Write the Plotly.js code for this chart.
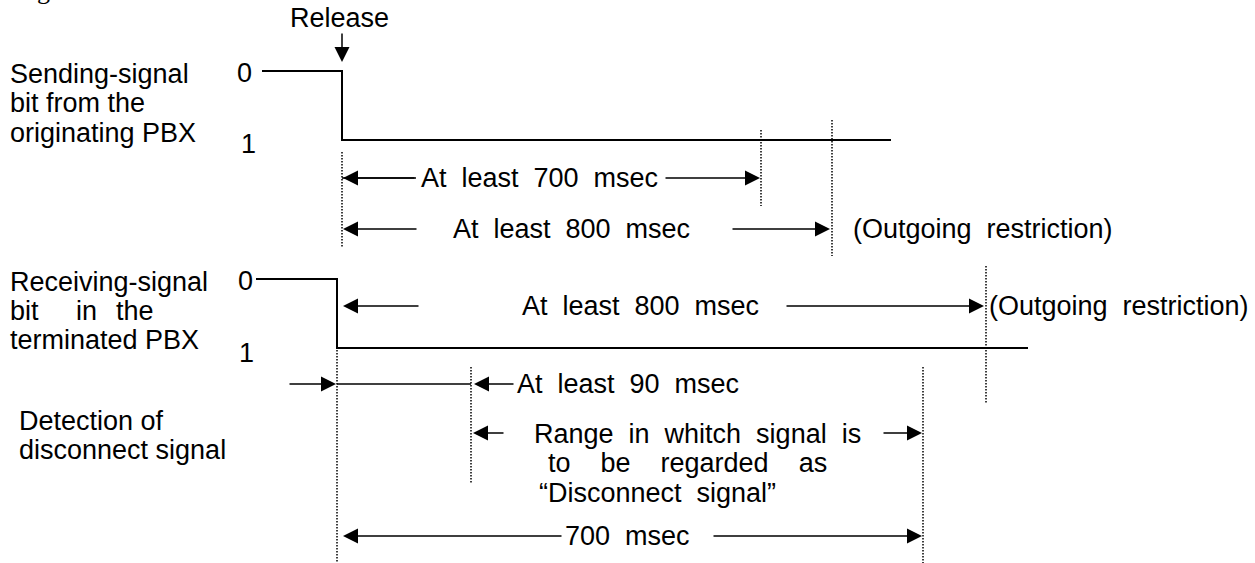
<!DOCTYPE html>
<html>
<head>
<meta charset="utf-8">
<script src="https://cdn.plot.ly/plotly-3.0.1.min.js"></script>
<style>
html,body{margin:0;padding:0;background:#fff;}
#chart{width:1255px;height:563px;}
</style>
</head>
<body>
<div id="chart"></div>
<script>
// Diagram coordinates (horizontal = time position, vertical = row position)
const sendX = [262, 342, 342, 891];
const sendY = [71, 71, 140, 140];
const recvX = [256, 337, 337, 1028];
const recvY = [279, 279, 348, 348];

// dotted time markers: x, top, bottom
const markX   = [342, 761, 832, 337, 986, 471, 923];
const markTop = [152, 130, 120, 350, 266, 367, 367];
const markBot = [248, 206, 256, 563, 404, 484, 563];

// plain connector lines: x0, x1, y
const lineX0 = [342, 337];
const lineX1 = [416, 471];
const lineY  = [178, 384];

// arrows: tail -> head
const arrTailX = [342, 416, 664, 418, 731, 420, 785, 288, 515, 505, 882, 563, 712];
const arrTailY = [32, 178, 178, 229, 229, 306, 306, 384, 384, 433, 433, 536, 536];
const arrHeadX = [342, 343, 760, 343, 830, 343, 984, 336, 474, 473, 922, 343, 922];
const arrHeadY = [62, 178, 178, 229, 229, 306, 306, 384, 384, 433, 433, 536, 536];

const S2 = '\u00a0\u00a0';
const S4 = '\u00a0\u00a0\u00a0\u00a0';

// text labels
const labText = [
  'Release',
  'Sending-signal', 'bit from the', 'originating PBX',
  '0', '1',
  'At' + S2 + 'least' + S2 + '700' + S2 + 'msec',
  'At' + S2 + 'least' + S2 + '800' + S2 + 'msec',
  '(Outgoing' + S2 + 'restriction)',
  'Receiving-signal', 'bit', 'in', 'the', 'terminated PBX',
  '0', '1',
  'At' + S2 + 'least' + S2 + '800' + S2 + 'msec',
  '(Outgoing' + S2 + 'restriction)',
  'At' + S2 + 'least' + S2 + '90' + S2 + 'msec',
  'Detection of', 'disconnect signal',
  'Range' + S2 + 'in' + S2 + 'whitch' + S2 + 'signal' + S2 + 'is',
  'to' + S4 + 'be' + S4 + 'regarded' + S4 + 'as',
  '\u201cDisconnect' + S2 + 'signal\u201d',
  '700' + S2 + 'msec'
];
const labX = [288, 8, 8, 8, 235, 239, 419, 451, 851, 8, 8, 74, 114, 8, 236, 237, 520, 987, 515, 17, 17, 532, 546, 537, 563];
const labY = [18, 74, 103, 133, 73, 144, 178, 229, 229, 282, 311, 311, 311, 340, 281, 353, 306, 306, 384, 421, 450, 434, 463, 493, 536];

const FONT = 'Liberation Sans, Arial, sans-serif';
const FS = 27;

const traces = [];
traces.push({x: sendX, y: sendY, mode: 'lines', line: {color: '#000', width: 2}, hoverinfo: 'skip'});
traces.push({x: recvX, y: recvY, mode: 'lines', line: {color: '#000', width: 2}, hoverinfo: 'skip'});

const dx = [], dy = [];
markX.forEach((x, i) => { dx.push(x, x, null); dy.push(markTop[i], markBot[i], null); });
traces.push({x: dx, y: dy, mode: 'lines', line: {color: '#000', width: 1.5, dash: '1.5px,1.5px'}, connectgaps: false, hoverinfo: 'skip'});

const lx = [], ly = [];
lineX0.forEach((x, i) => { lx.push(x, lineX1[i], null); ly.push(lineY[i], lineY[i], null); });
traces.push({x: lx, y: ly, mode: 'lines', line: {color: '#000', width: 1.5}, connectgaps: false, hoverinfo: 'skip'});

const ann = [];
arrHeadX.forEach((x, i) => {
  ann.push({x: x, y: arrHeadY[i], ax: arrTailX[i], ay: arrTailY[i], xref: 'x', yref: 'y', axref: 'x', ayref: 'y',
    text: '', showarrow: true, arrowhead: 2, arrowsize: 2, arrowwidth: 1.5, arrowcolor: '#000', standoff: 0});
});
labText.forEach((t, i) => {
  ann.push({x: labX[i], y: labY[i], xref: 'x', yref: 'y', text: t, showarrow: false,
    xanchor: 'left', yanchor: 'middle', font: {family: FONT, size: FS, color: '#000'}});
});
// clipped caption fragment at the very top (cut off in the reference too)
ann.push({x: 6, y: 7, xref: 'x', yref: 'y', text: 'origination.', showarrow: false, xanchor: 'left', yanchor: 'bottom',
  font: {family: 'Liberation Serif, Times New Roman, serif', size: 26, color: '#000'}});

const layout = {
  width: 1255, height: 563,
  margin: {l: 0, r: 0, t: 0, b: 0, pad: 0},
  paper_bgcolor: '#fff', plot_bgcolor: '#fff',
  showlegend: false,
  xaxis: {range: [0, 1255], visible: false, fixedrange: true},
  yaxis: {range: [563, 0], visible: false, fixedrange: true},
  annotations: ann
};
Plotly.newPlot('chart', traces, layout, {displayModeBar: false, staticPlot: true});
</script>
</body>
</html>
